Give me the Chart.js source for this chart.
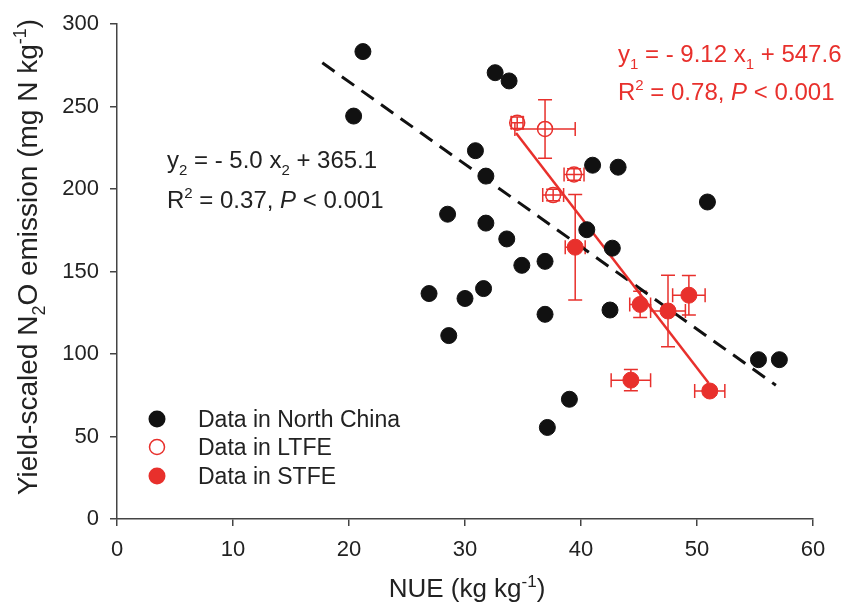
<!DOCTYPE html>
<html>
<head>
<meta charset="utf-8">
<script src="https://cdn.jsdelivr.net/npm/chart.js@4.4.1/dist/chart.umd.min.js"></script>
<style>
  html, body { margin: 0; padding: 0; background: #fff; }
  canvas { display: block; }
</style>
</head>
<body>
<canvas id="nueChart" width="858" height="609"></canvas>
<script>
// North China survey data
const chinaNUE = [21.2, 20.4, 30.9, 28.5, 32.6, 33.8, 31.8, 41.0, 43.2, 50.9, 31.8, 33.6, 40.5,
                  42.7, 34.9, 36.9, 26.9, 30.0, 31.6, 28.6, 36.9, 42.5, 39.0, 37.1, 55.3, 57.1];
const chinaN2O = [283.4, 244.3, 223.3, 184.8, 270.6, 265.6, 207.9, 214.5, 213.3, 192.2, 179.4, 169.8, 175.4,
                  164.2, 153.8, 156.2, 136.7, 133.7, 139.7, 111.2, 124.1, 126.7, 72.6, 55.5, 96.6, 96.6];

// long-term field experiment (mean +/- SE)
const ltfeNUE = [34.5, 36.9, 39.4, 37.6];
const ltfeN2O = [240.3, 236.5, 208.9, 196.4];
const ltfeNUEErr = [0.5, 2.6, 0.86, 0.9];
const ltfeN2OErr = [3.5, 17.7, 3.5, 3.5];

// short-term field experiment (mean +/- SE)
const stfeNUE = [39.5, 45.1, 47.5, 49.3, 44.3, 51.1];
const stfeN2O = [164.8, 130.1, 126.1, 135.7, 84.2, 77.6];
const stfeNUEErr = [0.86, 0.9, 1.5, 1.4, 1.7, 1.3];
const stfeN2OErr = [32, 8, 21.7, 12, 6.5, 2.5];

// regression lines, end points as drawn
const fit2NUE = [17.7, 56.8];
const fit2N2O = [276.6, 81.1];
const fit1NUE = [34.4, 51.0];
const fit1N2O = [234.0, 82.5];

const xTickValues = [0, 10, 20, 30, 40, 50, 60];
const yTickValues = [0, 50, 100, 150, 200, 250, 300];
const legendLabels = ['Data in North China', 'Data in LTFE', 'Data in STFE'];

const RED = '#e8302c';
const BLACK = '#111111';
const FONT = '"Liberation Sans", Arial, sans-serif';

const toPoints = (xs, ys) => xs.map((x, i) => ({ x: x, y: ys[i] }));

// text with _{sub}, ^{sup} and *italic* parts
function parseRich(str) {
  return str.split(/(_\{[^}]*\}|\^\{[^}]*\}|\*[^*]*\*)/).filter(s => s).map(s => {
    if (s.startsWith('_{')) return { t: s.slice(2, -1), mode: 'sub' };
    if (s.startsWith('^{')) return { t: s.slice(2, -1), mode: 'sup' };
    if (s.startsWith('*')) return { t: s.slice(1, -1), mode: 'it' };
    return { t: s, mode: '' };
  });
}

function drawRich(ctx, str, x, y, size, color, align) {
  const parts = parseRich(str);
  const small = Math.round(size * 0.64);
  const fontOf = p => (p.mode === 'it' ? 'italic ' : '') +
    (p.mode === 'sub' || p.mode === 'sup' ? small : size) + 'px ' + FONT;
  let w = 0;
  parts.forEach(p => { ctx.font = fontOf(p); w += ctx.measureText(p.t).width; });
  let cx = align === 'center' ? x - w / 2 : x;
  ctx.fillStyle = color;
  ctx.textAlign = 'left';
  ctx.textBaseline = 'alphabetic';
  parts.forEach(p => {
    ctx.font = fontOf(p);
    let dy = 0;
    if (p.mode === 'sub') dy = size * 0.3;
    if (p.mode === 'sup') dy = -size * 0.4;
    ctx.fillText(p.t, cx, y + dy);
    cx += ctx.measureText(p.t).width;
  });
}

const errorBars = {
  id: 'errorBars',
  beforeDatasetsDraw(chart) {
    const ctx = chart.ctx;
    const xs = chart.scales.x, ys = chart.scales.y;
    const cap = 7;
    const draw = (nx, ny, ex, ey) => {
      nx.forEach((v, i) => {
        const px = xs.getPixelForValue(v), py = ys.getPixelForValue(ny[i]);
        const x0 = xs.getPixelForValue(v - ex[i]), x1 = xs.getPixelForValue(v + ex[i]);
        const y0 = ys.getPixelForValue(ny[i] - ey[i]), y1 = ys.getPixelForValue(ny[i] + ey[i]);
        ctx.beginPath();
        ctx.moveTo(x0, py); ctx.lineTo(x1, py);
        ctx.moveTo(x0, py - cap); ctx.lineTo(x0, py + cap);
        ctx.moveTo(x1, py - cap); ctx.lineTo(x1, py + cap);
        ctx.moveTo(px, y0); ctx.lineTo(px, y1);
        ctx.moveTo(px - cap, y0); ctx.lineTo(px + cap, y0);
        ctx.moveTo(px - cap, y1); ctx.lineTo(px + cap, y1);
        ctx.stroke();
      });
    };
    ctx.save();
    ctx.strokeStyle = RED;
    ctx.lineWidth = 1.5;
    draw(ltfeNUE, ltfeN2O, ltfeNUEErr, ltfeN2OErr);
    draw(stfeNUE, stfeN2O, stfeNUEErr, stfeN2OErr);
    ctx.restore();
  }
};

const annotations = {
  id: 'annotations',
  afterDraw(chart) {
    const ctx = chart.ctx;
    ctx.save();
    // axis titles
    drawRich(ctx, 'NUE (kg kg^{-1})', 467, 597, 26, '#222', 'center');
    ctx.save();
    ctx.translate(37, 257);
    ctx.rotate(-Math.PI / 2);
    drawRich(ctx, 'Yield-scaled N_{2}O emission (mg N kg^{-1})', 0, 0, 28, '#222', 'center');
    ctx.restore();

    // regression equations
    drawRich(ctx, 'y_{2} = - 5.0 x_{2} + 365.1', 167, 168, 24, '#222', 'left');
    drawRich(ctx, 'R^{2} = 0.37, *P* < 0.001', 167, 208, 24, '#222', 'left');
    drawRich(ctx, 'y_{1} = - 9.12 x_{1} + 547.6', 618, 62, 24, RED, 'left');
    drawRich(ctx, 'R^{2} = 0.78, *P* < 0.001', 618, 100, 24, RED, 'left');

    // legend
    const rows = [419, 447, 476];
    const mx = 157;
    ctx.fillStyle = BLACK;
    ctx.beginPath(); ctx.arc(mx, rows[0], 8.5, 0, Math.PI * 2); ctx.fill();
    ctx.strokeStyle = RED; ctx.lineWidth = 1.5;
    ctx.beginPath(); ctx.arc(mx, rows[1], 7.5, 0, Math.PI * 2); ctx.stroke();
    ctx.fillStyle = RED;
    ctx.beginPath(); ctx.arc(mx, rows[2], 8.5, 0, Math.PI * 2); ctx.fill();
    legendLabels.forEach((lab, i) => {
      drawRich(ctx, lab, 198, rows[i] + 8, 23, '#222', 'left');
    });
    ctx.restore();
  }
};

const ctx = document.getElementById('nueChart').getContext('2d');
const nueChart = new Chart(ctx, {
  type: 'scatter',
  data: {
    datasets: [
      {
        label: legendLabels[2],
        data: toPoints(stfeNUE, stfeN2O),
        backgroundColor: RED,
        borderColor: RED,
        borderWidth: 1,
        pointRadius: 8,
        order: 1
      },
      {
        label: legendLabels[1],
        data: toPoints(ltfeNUE, ltfeN2O),
        backgroundColor: 'rgba(0,0,0,0)',
        borderColor: RED,
        borderWidth: 1.5,
        pointRadius: 7.5,
        order: 2
      },
      {
        label: legendLabels[0],
        data: toPoints(chinaNUE, chinaN2O),
        backgroundColor: BLACK,
        borderColor: BLACK,
        borderWidth: 1,
        pointRadius: 8,
        order: 3
      },
      {
        type: 'line',
        data: toPoints(fit1NUE, fit1N2O),
        borderColor: RED,
        borderWidth: 2.5,
        pointRadius: 0,
        fill: false,
        order: 4
      },
      {
        type: 'line',
        data: toPoints(fit2NUE, fit2N2O),
        borderColor: BLACK,
        borderWidth: 3,
        borderDash: [15, 9],
        pointRadius: 0,
        fill: false,
        order: 5
      }
    ]
  },
  options: {
    responsive: false,
    animation: false,
    devicePixelRatio: 1,
    layout: { padding: { left: 0, right: 45, top: 21, bottom: 0 } },
    plugins: {
      legend: { display: false },
      tooltip: { enabled: false }
    },
    scales: {
      x: {
        type: 'linear',
        min: 0,
        max: 60,
        afterBuildTicks: scale => { scale.ticks = xTickValues.map(v => ({ value: v })); },
        afterFit: scale => { scale.height = 90; },
        grid: { drawOnChartArea: false, tickLength: 7, color: '#444', lineWidth: 1.5 },
        border: { display: true, color: '#444', width: 1.5 },
        ticks: { font: { family: FONT, size: 22 }, color: '#222', padding: 11, maxRotation: 0 }
      },
      y: {
        type: 'linear',
        min: 0,
        max: 300,
        afterBuildTicks: scale => { scale.ticks = yTickValues.map(v => ({ value: v })); },
        afterFit: scale => { scale.width = 117; },
        grid: { drawOnChartArea: false, tickLength: 7, color: '#444', lineWidth: 1.5 },
        border: { display: true, color: '#444', width: 1.5 },
        ticks: { font: { family: FONT, size: 22 }, color: '#222', padding: 11 }
      }
    }
  },
  plugins: [errorBars, annotations]
});
</script>
</body>
</html>
